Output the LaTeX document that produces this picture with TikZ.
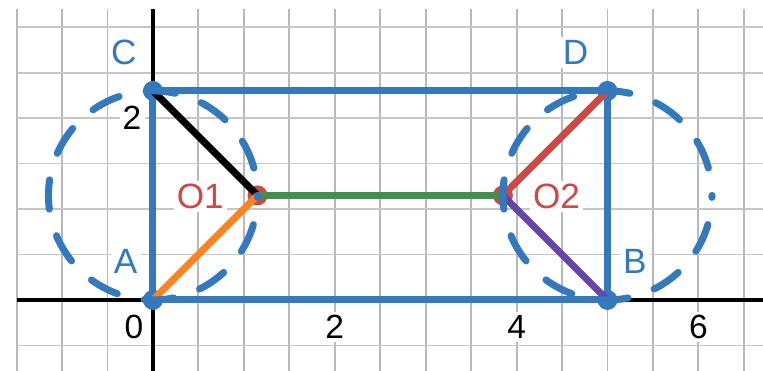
\documentclass[tikz,border=0pt]{standalone}
\usepackage{fontspec}
\setmainfont{Liberation Sans}
\usepackage{tikz}
\usetikzlibrary{positioning, calc}
\usepackage{xcolor}
\definecolor{dblue}{RGB}{52,120,190}
\definecolor{dred}{RGB}{204,74,70}
\definecolor{dgreen}{RGB}{64,143,78}
\definecolor{dorange}{RGB}{250,132,36}
\definecolor{dpurple}{RGB}{100,70,170}

\begin{document}
\begin{tikzpicture}[
  vline/.style={gray!55, line width=0.6pt},
  hline/.style={gray!45, line width=0.55pt},
  seg/.style={line width=2.2pt},
  pt/.style={circle, inner sep=0pt, minimum size=0.22cm},
  ring/.style={dblue, line width=2.2pt, line cap=round, dash pattern=on 9.2pt off 8.65pt, dash phase=9.2pt},
  lab/.style={font=\fontsize{11}{13}\selectfont, fill=white, inner sep=1pt},
  num/.style={font=\fontsize{10.5}{12}\selectfont, fill=white, inner sep=1pt}
]
\useasboundingbox (-1.683,-0.781) rectangle (6.711,3.300);

% Grid
\foreach \x in {-1.5,-1,...,6.5} \draw[vline] (\x,-0.781) -- (\x,3.2);
\foreach \y in {-0.5,0,...,3.0} \draw[hline] (-1.5,\y) -- (6.711,\y);

% Axes
\draw[black, line width=1.1pt] (-1.5,0) -- (6.711,0);
\draw[black, line width=1.1pt] (0,-0.781) -- (0,3.2);

% Axis numbers
\node[num] (n0) at (-0.21,-0.30) {0};
\node[num] (n2) at (2,-0.30) {2};
\node[num] (n4) at (4,-0.30) {4};
\node[num] (n6) at (6,-0.30) {6};
\node[num] (m2) at (-0.23,2) {2};

% Points
\node[pt, fill=dblue] (A) at (0,0) {};
\node[pt, fill=dblue] (B) at (5,0) {};
\node[pt, fill=dblue] (C) at (0,2.3) {};
\node[pt, fill=dblue] (D) at (5,2.3) {};
\node[pt, fill=dred] (O1) at (1.15,1.15) {};
\node[pt, fill=dred] (O2) at (3.85,1.15) {};

% Rectangle
\draw[seg, dblue] (A.center) -- (B.center) -- (D.center) -- (C.center) -- cycle;

% Segments to the centres
\draw[seg, black] (C.center) -- (O1.center);
\draw[seg, dorange] (A.center) -- (O1.center);
\draw[seg, dgreen] (O1.center) -- (O2.center);
\draw[seg, dred] (O2.center) -- (D.center);
\draw[seg, dpurple] (O2.center) -- (B.center);

% Dashed circles
\coordinate (M1) at (0,1.15);
\coordinate (M2) at (5,1.15);
\draw[ring] (M1) circle (1.15);
\draw[ring] (M2) circle (1.15);

% Labels
\node[lab, text=dblue] (labC) at (-0.32,2.72) {C};
\node[lab, text=dblue] (labD) at (4.65,2.72) {D};
\node[lab, text=dblue] (labA) at (-0.30,0.42) {A};
\node[lab, text=dblue] (labB) at (5.30,0.42) {B};
\node[lab, text=dred] (labO1) at (0.52,1.14) {O1};
\node[lab, text=dred] (labO2) at (4.44,1.14) {O2};
\end{tikzpicture}
\end{document}
